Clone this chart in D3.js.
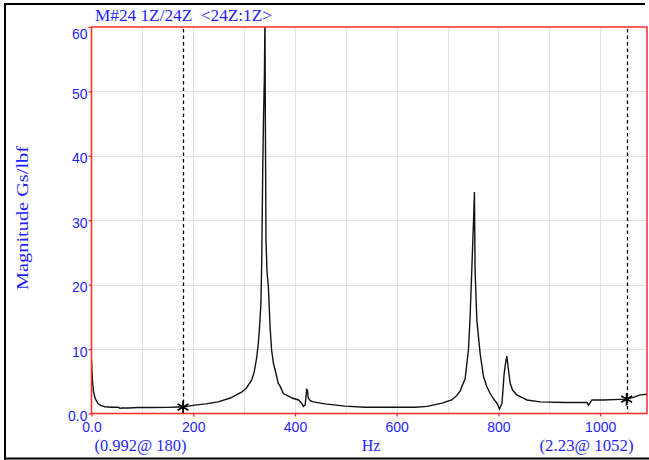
<!DOCTYPE html>
<html>
<head>
<meta charset="utf-8">
<script src="https://cdn.jsdelivr.net/npm/d3@7"></script>
<style>
  html, body { margin: 0; padding: 0; background: #fff; }
  svg { display: block; }
</style>
</head>
<body>
<svg id="chart" width="649" height="460"></svg>
<script>
// Frequency response magnitude, Gs/lbf vs Hz
const freqHz = [0, 1, 2, 4, 7, 10, 13, 18, 26, 40, 53, 56, 60, 72, 92, 120, 150, 171, 180, 203, 225, 249, 273, 295, 305, 315, 320, 325, 328, 330, 333, 334.7, 336.6, 338, 340, 341, 341.8, 343, 345, 347.7, 351, 354, 357.6, 361, 367, 371, 377, 390, 394, 407, 413, 416.5, 420, 423, 424.5, 426, 430, 436, 459, 498, 538, 600, 636, 660, 689, 708, 717, 725, 728, 734.5, 741, 744, 747.6, 751, 752.8, 754, 757.5, 764, 770.7, 777, 783.7, 790, 797, 802, 807, 811, 813.5, 816.5, 819.7, 823, 828, 836, 849, 856, 882, 930, 974, 977, 983.7, 1006, 1039, 1052, 1065, 1079, 1095];
const magnitude = [8.3, 6.5, 4.9, 3.4, 2.4, 1.9, 1.5, 1.25, 1.05, 0.97, 0.96, 0.8, 0.85, 0.85, 0.92, 0.93, 0.95, 1.0, 0.992, 1.3, 1.5, 1.8, 2.4, 3.3, 4.0, 5.2, 6.5, 8.8, 11, 13, 17, 24, 37.8, 45, 53, 62, 45, 27, 22, 19.7, 13.5, 9.9, 7.8, 6.75, 4.7, 4.2, 3.1, 2.6, 2.4, 2.1, 1.6, 1.1, 1.3, 3.75, 3.65, 2.4, 2.0, 1.8, 1.5, 1.15, 0.96, 0.96, 0.96, 1.1, 1.6, 2.1, 2.7, 3.5, 4.2, 5.4, 9.9, 14.5, 22.3, 30, 34.4, 22.3, 14.5, 9.3, 5.7, 4.2, 3.1, 2.3, 1.6, 0.7, 1.6, 6.0, 7.6, 8.9, 6.75, 4.7, 3.6, 2.9, 2.4, 2.1, 1.8, 1.7, 1.7, 1.3, 2.1, 2.1, 2.2, 2.23, 2.5, 2.9, 3.0];

const xTicks = [0, 200, 400, 600, 800, 1000];
const yTicks = [0, 10, 20, 30, 40, 50, 60];
const xGrid = [100, 200, 300, 400, 500, 600, 700, 800, 900, 1000];
const yGrid = [10, 20, 30, 40, 50];

const cursorHz = [180, 1052];
const cursorMag = [0.992, 2.23];

const titleText = "M#24 1Z/24Z  <24Z:1Z>";
const xTitle = "Hz";
const yTitle = "Magnitude Gs/lbf";

const blue = "#1f1fff";
const red = "#ff2a2a";

const svg = d3.select("#chart");
const plot = { left: 91.5, right: 647, top: 27, bottom: 413.5 };

const x = d3.scaleLinear().domain([0, 1092]).range([plot.left, plot.right]);
const y = d3.scaleLinear().domain([0, 60]).range([plot.bottom, plot.top]);

// outer window frame
svg.append("path")
  .attr("d", "M5,460 V4 H645 M4,458.5 H649")
  .attr("fill", "none").attr("stroke", "#000").attr("stroke-width", 2);

// grid
const grid = svg.append("g").attr("stroke", "#e2e2e2").attr("stroke-width", 1);
grid.selectAll("line.v").data(xGrid).join("line")
  .attr("x1", d => Math.round(x(d)) + 0.5).attr("x2", d => Math.round(x(d)) + 0.5)
  .attr("y1", plot.top).attr("y2", plot.bottom);
grid.selectAll("line.h").data(yGrid).join("line")
  .attr("y1", d => Math.round(y(d)) + 0.5).attr("y2", d => Math.round(y(d)) + 0.5)
  .attr("x1", plot.left).attr("x2", plot.right);

// clip
svg.append("clipPath").attr("id", "clip")
  .append("rect").attr("x", plot.left).attr("y", plot.top)
  .attr("width", plot.right - plot.left).attr("height", plot.bottom - plot.top);

// cursors
svg.append("g").selectAll("line").data(cursorHz).join("line")
  .attr("x1", d => Math.round(x(d)) + 0.5).attr("x2", d => Math.round(x(d)) + 0.5)
  .attr("y1", plot.top + 2).attr("y2", plot.bottom)
  .attr("stroke", "#000").attr("stroke-width", 1.3).attr("stroke-dasharray", "3.5,3");

// response curve
const pts = freqHz.map((f, i) => [f, magnitude[i]]);
svg.append("path")
  .datum(pts)
  .attr("clip-path", "url(#clip)")
  .attr("fill", "none").attr("stroke", "#111").attr("stroke-width", 1.4)
  .attr("d", d3.line().x(d => x(d[0])).y(d => y(d[1])));

// cursor markers: asterisk with a small solid centre
const markers = svg.append("g").selectAll("g").data(cursorHz).join("g")
  .attr("transform", (d, i) => `translate(${x(d)},${y(cursorMag[i])})`);
markers.append("path")
  .attr("d", d3.symbol().type(d3.symbolAsterisk).size(110))
  .attr("fill", "none").attr("stroke", "#000").attr("stroke-width", 1.8);
markers.append("path")
  .attr("d", d3.symbol().type(d3.symbolCircle).size(14))
  .attr("fill", "#000");

// plot border
svg.append("rect")
  .attr("x", plot.left).attr("y", plot.top)
  .attr("width", plot.right - plot.left).attr("height", plot.bottom - plot.top)
  .attr("fill", "none").attr("stroke", red).attr("stroke-width", 1.5);

// axes
const xAxis = svg.append("g").attr("transform", `translate(0,${plot.bottom})`)
  .call(d3.axisBottom(x).tickValues(xTicks).tickSize(3).tickPadding(6)
    .tickFormat(d => d === 0 ? "0.0" : String(d)));
const yAxis = svg.append("g").attr("transform", `translate(${plot.left},0)`)
  .call(d3.axisLeft(y).tickValues(yTicks).tickSize(3).tickPadding(1)
    .tickFormat(d => d === 0 ? "0.0" : String(d)));
[xAxis, yAxis].forEach(g => {
  g.select(".domain").remove();
  g.selectAll(".tick line").attr("stroke", red).attr("stroke-width", 1.3);
  g.selectAll(".tick text").attr("fill", blue)
    .attr("font-family", "'Liberation Sans', Arial, sans-serif").attr("font-size", 14);
});
yAxis.selectAll(".tick text").attr("dy", "0.5em");
yAxis.selectAll(".tick text").filter(d => d === 60).attr("dy", "0.85em");

// titles
const serif = "'Liberation Serif', 'Times New Roman', serif";
svg.append("text").attr("x", 95).attr("y", 21)
  .attr("font-family", serif).attr("font-size", 16).attr("fill", blue)
  .attr("textLength", 177).attr("lengthAdjust", "spacingAndGlyphs")
  .style("white-space", "pre").text(titleText);
svg.append("text").attr("x", 371).attr("y", 451).attr("text-anchor", "middle")
  .attr("font-family", serif).attr("font-size", 16).attr("fill", blue).text(xTitle);
svg.append("text").attr("transform", "translate(28,218) rotate(-90)").attr("text-anchor", "middle")
  .attr("font-family", serif).attr("font-size", 16).attr("fill", blue)
  .attr("textLength", 144).attr("lengthAdjust", "spacingAndGlyphs").text(yTitle);

// cursor readouts
const readout = cursorHz.map((f, i) => `(${cursorMag[i]}@ ${f})`);
svg.append("g").selectAll("text").data(readout).join("text")
  .attr("x", (d, i) => i === 0 ? 140.5 : 586.5).attr("y", 451).attr("text-anchor", "middle")
  .attr("font-family", serif).attr("font-size", 16).attr("fill", blue)
  .attr("textLength", (d, i) => i === 0 ? 92 : 94).attr("lengthAdjust", "spacingAndGlyphs")
  .style("white-space", "pre").text(d => d);
</script>
</body>
</html>
